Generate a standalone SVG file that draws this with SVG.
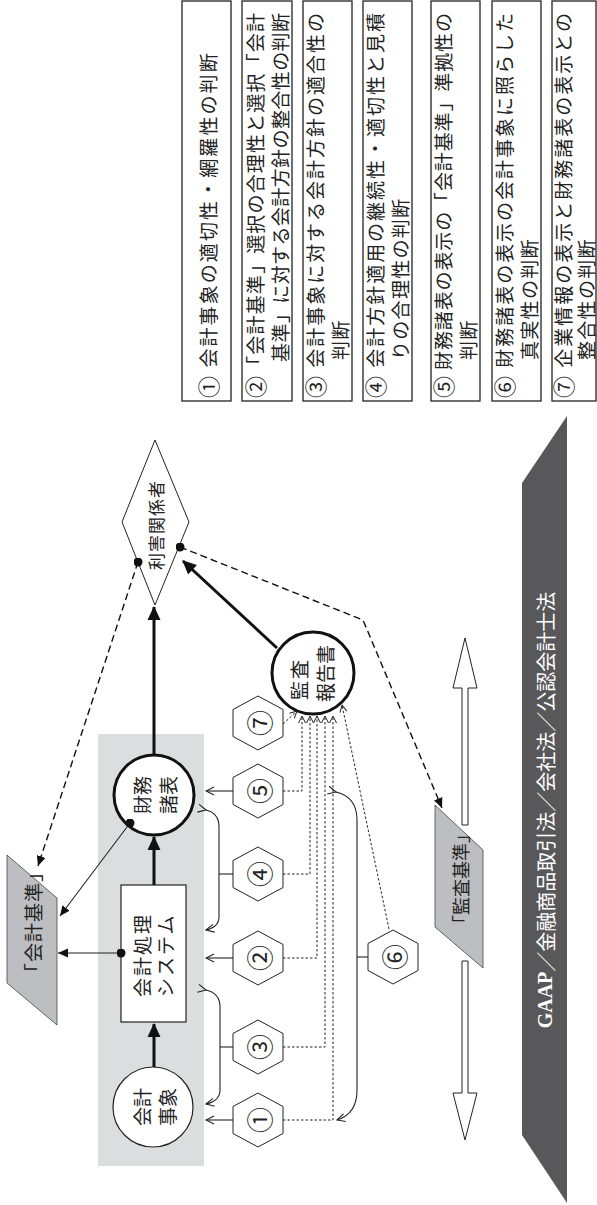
<svg xmlns="http://www.w3.org/2000/svg" width="597" height="1205" viewBox="0 0 597 1205">
<style>
.t{font-family:"Noto Sans CJK JP","Liberation Sans",sans-serif;fill:#222;dominant-baseline:central}
.bx{fill:#fff;stroke:#222;stroke-width:1.3}
.hex{fill:#fff;stroke:#222;stroke-width:1}
.thin{fill:none;stroke:#222;stroke-width:1.1}
.thick{fill:none;stroke:#111;stroke-width:3}
.dash{fill:none;stroke:#111;stroke-width:1.4;stroke-dasharray:7,4}
.dot{fill:none;stroke:#222;stroke-width:1;stroke-dasharray:2.5,2}
.nt{font-size:19px}
.bt{font-size:19px;letter-spacing:1.3px}
.ht{font-size:26px}
.cn{font-size:22px}
</style>
<defs>
<marker id="aTh" viewBox="0 0 14 14" markerWidth="14" markerHeight="14" refX="13" refY="7" orient="auto" markerUnits="userSpaceOnUse"><path d="M0,0.5 L14,7 L0,13.5 z" fill="#111"/></marker>
<marker id="aTf" viewBox="0 0 10 10" markerWidth="10" markerHeight="10" refX="10" refY="5" orient="auto" markerUnits="userSpaceOnUse"><path d="M0,0.5 L10,5 L0,9.5 z" fill="#111"/></marker>
<marker id="aOp" viewBox="0 0 10 10" markerWidth="10" markerHeight="10" refX="9" refY="5" orient="auto" markerUnits="userSpaceOnUse"><path d="M1,1 L9,5 L1,9" fill="none" stroke="#222" stroke-width="1.1"/></marker>
<marker id="aSm" viewBox="0 0 8 8" markerWidth="8" markerHeight="8" refX="7.5" refY="4" orient="auto" markerUnits="userSpaceOnUse"><path d="M0.5,0.5 L7.5,4 L0.5,7.5" fill="none" stroke="#222" stroke-width="1"/></marker>
<marker id="dotS" viewBox="0 0 10 10" markerWidth="9" markerHeight="9" refX="5" refY="5" markerUnits="userSpaceOnUse"><circle cx="5" cy="5" r="5" fill="#111"/></marker>
<polygon id="hx" points="0,-27 25,-13.5 25,13.5 0,27 -25,13.5 -25,-13.5"/>
</defs>

<!-- background band -->
<rect id="system-bg" x="98" y="734" width="106" height="432" fill="#dcdddf"/>

<!-- legend boxes -->
<g id="legend1"><rect class="bx" x="182" y="1" width="49" height="400"/>
<text class="t bt" transform="translate(207,398) rotate(-90)" textLength="346" lengthAdjust="spacing"><tspan class="cn">①</tspan> 会計事象の適切性・網羅性の判断</text></g>
<g id="legend2"><rect class="bx" x="242" y="1" width="50" height="400"/>
<text class="t nt" transform="translate(254,398) rotate(-90)" textLength="385" lengthAdjust="spacing"><tspan class="cn">②</tspan>「会計基準」選択の合理性と選択「会計</text>
<text class="t nt" transform="translate(279,362) rotate(-90)" textLength="349" lengthAdjust="spacing">基準」に対する会計方針の整合性の判断</text></g>
<g id="legend3"><rect class="bx" x="303" y="1" width="49" height="400"/>
<text class="t nt" transform="translate(314,398) rotate(-90)" textLength="385" lengthAdjust="spacing"><tspan class="cn">③</tspan> 会計事象に対する会計方針の適合性の</text>
<text class="t bt" transform="translate(339,360) rotate(-90)">判断</text></g>
<g id="legend4"><rect class="bx" x="363" y="1" width="49" height="400"/>
<text class="t nt" transform="translate(374,398) rotate(-90)" textLength="385" lengthAdjust="spacing"><tspan class="cn">④</tspan> 会計方針適用の継続性・適切性と見積</text>
<text class="t bt" transform="translate(399,360) rotate(-90)">りの合理性の判断</text></g>
<g id="legend5"><rect class="bx" x="431" y="1" width="49" height="400"/>
<text class="t nt" transform="translate(442,398) rotate(-90)" textLength="385" lengthAdjust="spacing"><tspan class="cn">⑤</tspan> 財務諸表の表示の「会計基準」準拠性の</text>
<text class="t bt" transform="translate(467,360) rotate(-90)">判断</text></g>
<g id="legend6"><rect class="bx" x="492" y="1" width="49" height="400"/>
<text class="t nt" transform="translate(503,398) rotate(-90)" textLength="385" lengthAdjust="spacing"><tspan class="cn">⑥</tspan> 財務諸表の表示の会計事象に照らした</text>
<text class="t bt" transform="translate(528,360) rotate(-90)">真実性の判断</text></g>
<g id="legend7"><rect class="bx" x="552" y="1" width="44" height="400"/>
<text class="t nt" transform="translate(562,398) rotate(-90)" textLength="385" lengthAdjust="spacing"><tspan class="cn">⑦</tspan> 企業情報の表示と財務諸表の表示との</text>
<text class="t bt" transform="translate(585,360) rotate(-90)">整合性の判断</text></g>

<!-- GAAP band -->
<g id="gaap"><polygon points="522,483 567,416 567,1203 522,1135" fill="#58585a"/>
<text class="t" style="fill:#fff;font-size:20px" transform="translate(545,810) rotate(-90)" text-anchor="middle"><tspan font-family="Liberation Serif" font-weight="bold">GAAP</tspan>／金融商品取引法／会社法／公認会計士法</text></g>

<!-- standards -->
<g id="kaikei-kijun"><polygon points="7,855 57,898 57,1025 7,983" fill="#bdbec1" stroke="#444" stroke-width="0.8"/>
<text class="t" style="font-size:19px;letter-spacing:1px" transform="translate(32,982) rotate(-90)">「会計基準」</text></g>
<g id="kansa-kijun"><polygon points="435,805 483,850 483,968 435,927" fill="#bdbec1" stroke="#444" stroke-width="0.8"/>
<text class="t" style="font-size:18px" transform="translate(460,933) rotate(-90)">「監査基準」</text></g>

<!-- hollow arrows -->
<g id="hollow-arrows" fill="#fff" stroke="#222" stroke-width="1">
<polygon points="462,825 468,825 468,688 477,688 465,638 453,688 462,688"/>
<polygon points="462,961 468,961 468,1093 477,1093 465,1140 453,1093 462,1093"/>
</g>

<!-- nodes -->
<g id="kaikei-jisho"><circle cx="153" cy="1107" r="40" fill="#fff" stroke="#222" stroke-width="1.2"/>
<text class="t nt" transform="translate(141,1107) rotate(-90)" text-anchor="middle">会計</text>
<text class="t nt" transform="translate(166,1107) rotate(-90)" text-anchor="middle">事象</text></g>
<g id="kaikei-system"><rect x="121" y="885" width="65" height="137" fill="#fff" stroke="#222" stroke-width="1.2"/>
<text class="t nt" style="letter-spacing:2px" transform="translate(141,997) rotate(-90)">会計処理</text>
<text class="t nt" style="letter-spacing:2px" transform="translate(164,997) rotate(-90)">システム</text></g>
<g id="zaimu-shohyo"><circle cx="154" cy="795" r="40" fill="#fff" stroke="#111" stroke-width="3"/>
<text class="t nt" transform="translate(141,795) rotate(-90)" text-anchor="middle">財務</text>
<text class="t nt" transform="translate(167,795) rotate(-90)" text-anchor="middle">諸表</text></g>
<g id="rigai-kankeisha"><polygon points="155,440 189,522 155,605 122,522" fill="#fff" stroke="#222" stroke-width="1"/>
<text class="t" style="font-size:17px;letter-spacing:1px" transform="translate(155,570) rotate(-90)">利害関係者</text></g>
<g id="kansa-hokokusho"><circle cx="313" cy="673" r="41" fill="#fff" stroke="#111" stroke-width="3"/>
<text class="t nt" style="letter-spacing:2px" transform="translate(298,700) rotate(-90)">監査</text>
<text class="t nt" transform="translate(324,702) rotate(-90)">報告書</text></g>

<!-- hexagons -->
<g id="hex1"><use href="#hx" x="258" y="1120" class="hex"/><text class="t ht" transform="translate(258,1120) rotate(-90)" text-anchor="middle">①</text></g>
<g id="hex3"><use href="#hx" x="258" y="1047" class="hex"/><text class="t ht" transform="translate(258,1047) rotate(-90)" text-anchor="middle">③</text></g>
<g id="hex2"><use href="#hx" x="258" y="958" class="hex"/><text class="t ht" transform="translate(258,958) rotate(-90)" text-anchor="middle">②</text></g>
<g id="hex4"><use href="#hx" x="258" y="874" class="hex"/><text class="t ht" transform="translate(258,874) rotate(-90)" text-anchor="middle">④</text></g>
<g id="hex5"><use href="#hx" x="258" y="791" class="hex"/><text class="t ht" transform="translate(258,791) rotate(-90)" text-anchor="middle">⑤</text></g>
<g id="hex7"><use href="#hx" x="258" y="723" class="hex"/><text class="t ht" transform="translate(258,723) rotate(-90)" text-anchor="middle">⑦</text></g>
<g id="hex6"><use href="#hx" x="393" y="957" class="hex"/><text class="t ht" transform="translate(393,957) rotate(-90)" text-anchor="middle">⑥</text></g>

<!-- connectors -->
<g id="connectors">
<path class="thick" d="M154,1067 V1024" marker-end="url(#aTh)"/>
<path class="thick" d="M154,885 V837" marker-end="url(#aTh)"/>
<path class="thick" d="M154,755 V607" marker-end="url(#aTh)"/>
<path class="thick" d="M277,648 L183,561" marker-end="url(#aTh)"/>
<path class="thin" d="M121,953 H58" marker-start="url(#dotS)" marker-end="url(#aTf)"/>
<path class="thin" d="M130,823 L60,916" marker-start="url(#dotS)" marker-end="url(#aTf)"/>
<path class="dash" d="M138,562 L38,866" marker-start="url(#dotS)" marker-end="url(#aTf)"/>
<path class="dash" d="M180,547 L363,620 L442,808" marker-start="url(#dotS)" marker-end="url(#aTf)"/>
<!-- hex to system -->
<path class="thin" d="M233,1120 H206" marker-end="url(#aOp)"/>
<path class="thin" d="M233,958 H206" marker-end="url(#aOp)"/>
<path class="thin" d="M233,791 H206" marker-end="url(#aOp)"/>
<path class="thin" d="M233,1047 H220"/>
<path class="thin" d="M206,990 Q220,993 220,1007 V1090 Q220,1101 206,1104" marker-start="url(#aOp)" marker-end="url(#aOp)"/>
<path class="thin" d="M233,874 H219"/>
<path class="thin" d="M206,810 Q219,813 219,827 V917 Q219,927 206,930" marker-start="url(#aOp)" marker-end="url(#aOp)"/>
<path class="thin" d="M368,957 H357"/>
<path class="thin" d="M336,792 Q357,797 357,820 V1090 Q357,1114 337,1120" marker-start="url(#aOp)" marker-end="url(#aOp)"/>
<!-- dotted to audit report -->
<path class="dot" d="M283,1120 H333 V716" marker-end="url(#aSm)"/>
<path class="dot" d="M283,1047 H325 V716" marker-end="url(#aSm)"/>
<path class="dot" d="M283,958 H317 V716" marker-end="url(#aSm)"/>
<path class="dot" d="M283,874 H310 V716" marker-end="url(#aSm)"/>
<path class="dot" d="M283,791 H302 V716" marker-end="url(#aSm)"/>
<path class="dot" d="M283,724 L297,711" marker-end="url(#aSm)"/>
<path class="dot" d="M389,929 L342,705" marker-end="url(#aSm)"/>
</g>
</svg>
